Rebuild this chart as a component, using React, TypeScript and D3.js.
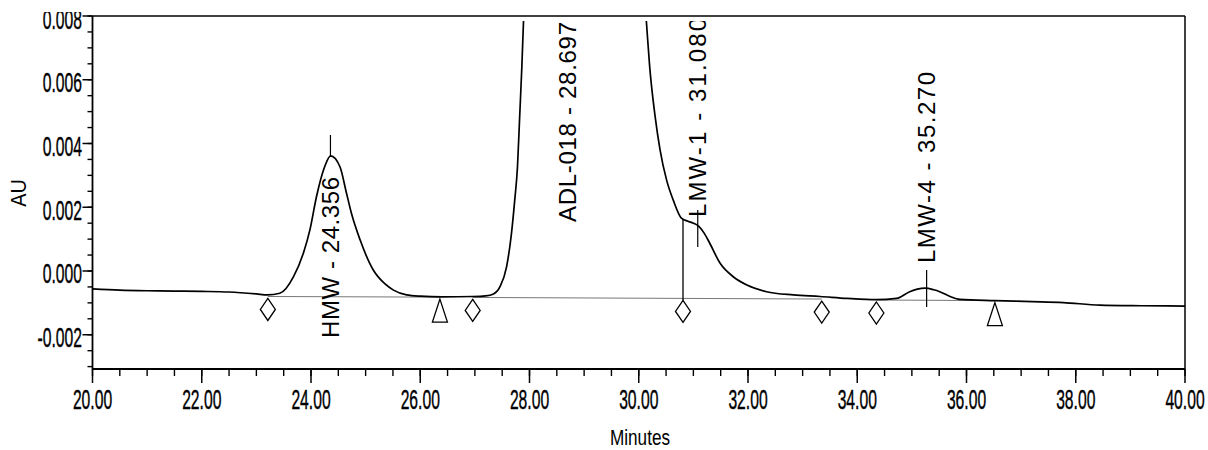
import React from 'react';
import * as d3 from 'd3';

// ---- Data ----
const times = [
  20.0, 20.5, 21.0, 21.5, 22.0, 22.5, 23.0, 23.2, 23.43, 23.68, 23.86, 23.98, 24.1, 24.25, 24.36,
  24.53, 24.65, 24.74, 24.9, 25.14, 25.35, 25.51, 25.75, 26.0, 26.4, 26.96, 27.2, 27.34, 27.46,
  27.58, 27.67, 27.73, 27.78, 27.82, 27.86, 27.89, 27.95, 28.1, 28.697, 29.5, 30.0, 30.14, 30.2,
  30.3, 30.39, 30.51, 30.63, 30.78, 30.9, 31.0, 31.1, 31.2, 31.3, 31.49, 31.73, 31.98, 32.34,
  32.83, 33.32, 33.81, 34.35, 34.72, 34.96, 35.1, 35.24, 35.4, 35.51, 35.7, 35.88, 36.52, 37.2,
  37.77, 38.44, 39.2, 40.0,
];
const absorbance = [
  -0.00056, -0.0006, -0.00062, -0.00063, -0.00064, -0.00066, -0.00072, -0.00075, -0.0007, -0.00018,
  0.00056, 0.00129, 0.00233, 0.00327, 0.00361, 0.00327, 0.00244, 0.00181, 0.00097, 0.00003,
  -0.0004, -0.0006, -0.00075, -0.00079, -0.00081, -0.0008, -0.00078, -0.00072, -0.00049, 0.00013,
  0.00118, 0.00223, 0.00327, 0.00484, 0.00641, 0.00782, 0.0098, 0.0145, 0.03, 0.021, 0.011,
  0.00782, 0.00641, 0.00484, 0.0038, 0.00285, 0.00223, 0.00166, 0.00156, 0.0015, 0.0014, 0.00118,
  0.00087, 0.00024, -0.00018, -0.00044, -0.00065, -0.00075, -0.0008, -0.00086, -0.0009, -0.00086,
  -0.00065, -0.00057, -0.00054, -0.00059, -0.00065, -0.0008, -0.00089, -0.00093, -0.00096,
  -0.00099, -0.00107, -0.00109, -0.0011,
];

const peakNames = ['HMW', 'ADL-018', 'LMW-1', 'LMW-4'];
const peakTimes = [24.356, 28.697, 31.08, 35.27];

const markerTimes = [23.21, 26.36, 26.96, 30.81, 33.35, 34.35, 36.52];
const markerTypes = ['diamond', 'triangle', 'diamond', 'diamond', 'diamond', 'diamond', 'triangle'];
const markerBaseline = [-0.0008, -0.00082, -0.00083, -0.00086, -0.00088, -0.00091, -0.00093];
const baselineSegments = [[0, 1], [2, 4], [5, 6]];
const dropLineTime = 30.81;
const dropLineTop = 0.0016;

const xTickValues = [20, 22, 24, 26, 28, 30, 32, 34, 36, 38, 40];
const yTickValues = [-0.002, 0, 0.002, 0.004, 0.006, 0.008];

// ---- Layout (pixels) ----
const labelLayout = [
  { bottom: 338, length: 161, tick: [135, 157] },
  { bottom: 222, length: 200, tick: null },
  { bottom: 217, length: 199, tick: [210, 247] },
  { bottom: 263, length: 191, tick: [270, 307] },
];

const FONT = "'Liberation Sans', Arial, sans-serif";

export default function App() {
  const W = 1208;
  const H = 450;
  const left = 92.5, right = 1185, top = 16, bottom = 369;
  const x = d3.scaleLinear().domain([20, 40]).range([left, right]);
  const y = d3.scaleLinear().domain([-0.003075, 0.008]).range([bottom, top]);

  const line = d3
    .line<number>()
    .x((_, i) => x(times[i]))
    .y((d) => y(d))
    .curve(d3.curveMonotoneX);
  const signalPath = line(absorbance) || '';

  const xMinor = d3.range(20, 40.001, 0.5);
  const yMinor = d3.range(-0.003, 0.00801, 0.0005);

  return (
    <svg
      width={W}
      height={H}
      style={{ position: 'absolute', left: 0, top: 0, display: 'block', background: '#fff' }}
      fontFamily={FONT}
    >
      <defs>
        <clipPath id="plotClip">
          <rect x={left} y={21} width={right - left} height={bottom - 21} />
        </clipPath>
        <clipPath id="topClip">
          <rect x={0} y={12} width={W} height={H - 12} />
        </clipPath>
      </defs>

      {/* baseline segments */}
      {baselineSegments.map(([a, b], i) => (
        <line
          key={'bl' + i}
          x1={x(markerTimes[a])}
          y1={y(markerBaseline[a])}
          x2={x(markerTimes[b])}
          y2={y(markerBaseline[b])}
          stroke="#777"
          strokeWidth={1}
        />
      ))}

      {/* signal */}
      <g clipPath="url(#plotClip)">
        <path d={signalPath} fill="none" stroke="#000" strokeWidth={1.7} />
      </g>

      {/* drop line */}
      <line
        x1={x(dropLineTime)}
        x2={x(dropLineTime)}
        y1={y(dropLineTop)}
        y2={y(markerBaseline[3]) + 2}
        stroke="#000"
        strokeWidth={1.3}
      />

      {/* peak ticks and labels */}
      <g clipPath="url(#plotClip)">
        {peakNames.map((name, i) => {
          const lx = x(peakTimes[i]);
          const lay = labelLayout[i];
          return (
            <g key={name}>
              {lay.tick && (
                <line x1={lx} x2={lx} y1={lay.tick[0]} y2={lay.tick[1]} stroke="#000" strokeWidth={1.2} />
              )}
              <text
                transform={`translate(${lx},${lay.bottom}) rotate(-90)`}
                dy="0.35em"
                fontSize={24}
                textLength={lay.length}
                lengthAdjust="spacing"
                fill="#000"
              >
                {`${name} - ${peakTimes[i].toFixed(3)}`}
              </text>
            </g>
          );
        })}
      </g>

      {/* markers */}
      {markerTimes.map((t, i) => {
        const cx = x(t);
        const ty = y(markerBaseline[i]) + 2;
        const pts =
          markerTypes[i] === 'diamond'
            ? `${cx},${ty} ${cx + 7.5},${ty + 11} ${cx},${ty + 22} ${cx - 7.5},${ty + 11}`
            : `${cx},${ty} ${cx + 7.5},${ty + 23} ${cx - 7.5},${ty + 23}`;
        return <polygon key={'m' + i} points={pts} fill="#fff" stroke="#000" strokeWidth={1.3} />;
      })}

      {/* frame */}
      <line x1={left} x2={right} y1={top} y2={top} stroke="#000" strokeWidth={1.5} />
      <line x1={right} x2={right} y1={top} y2={bottom} stroke="#000" strokeWidth={1.5} />
      <line x1={left} x2={left} y1={top} y2={bottom} stroke="#000" strokeWidth={1.8} />
      <line x1={left} x2={right} y1={bottom} y2={bottom} stroke="#000" strokeWidth={1.8} />

      {/* x ticks */}
      {xMinor.map((v, i) => (
        <line key={'xm' + i} x1={x(v)} x2={x(v)} y1={bottom} y2={bottom + 7} stroke="#000" strokeWidth={1.4} />
      ))}
      {xTickValues.map((v) => (
        <g key={'xt' + v}>
          <line x1={x(v)} x2={x(v)} y1={bottom} y2={bottom + 14} stroke="#000" strokeWidth={1.5} />
          <text
            transform={`translate(${x(v)},409) scale(0.56,1)`}
            textAnchor="middle"
            fontSize={28}
            fill="#000"
            stroke="#000"
            strokeWidth={0.4}
          >
            {d3.format('.2f')(v)}
          </text>
        </g>
      ))}

      {/* y ticks */}
      {yMinor.map((v, i) => (
        <line key={'ym' + i} x1={left - 5} x2={left} y1={y(v)} y2={y(v)} stroke="#000" strokeWidth={1.4} />
      ))}
      <g clipPath="url(#topClip)">
        {yTickValues.map((v) => (
          <g key={'yt' + v}>
            <line x1={left - 10} x2={left} y1={y(v)} y2={y(v)} stroke="#000" strokeWidth={1.5} />
            <text
              transform={`translate(82,${y(v) + 12.5}) scale(0.56,1)`}
              textAnchor="end"
              fontSize={28}
              fill="#000"
              stroke="#000"
              strokeWidth={0.4}
            >
              {d3.format('.3f')(v).replace('−', '-')}
            </text>
          </g>
        ))}
      </g>

      {/* axis titles */}
      <text transform="translate(640,445) scale(0.78,1)" textAnchor="middle" fontSize={22} fill="#000">
        Minutes
      </text>
      <text transform="translate(26,193) rotate(-90) scale(0.9,1)" textAnchor="middle" fontSize={22} fill="#000">
        AU
      </text>
    </svg>
  );
}
